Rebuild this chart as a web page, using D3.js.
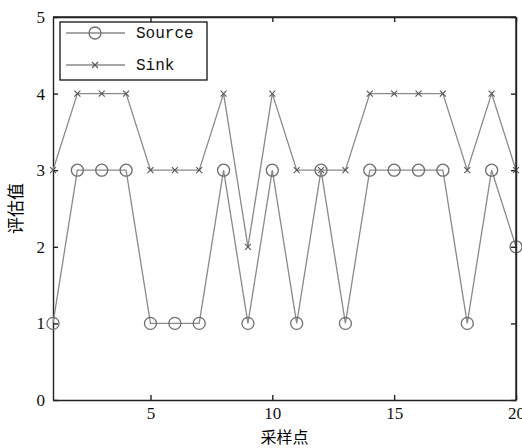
<!DOCTYPE html>
<head>
  <meta charset="utf-8">
  <style>
    body { margin: 0; background: #fff; }
    .line { fill: none; stroke: #8a8a8a; stroke-width: 1.3; }
    .dot { fill: none; stroke: #6e6e6e; stroke-width: 1.3; }
    .cross { stroke: #555; stroke-width: 1.1; }
    .axis path, .axis line { stroke: #222; stroke-width: 1.4; }
  </style>
  <script src="https://d3js.org/d3.v7.min.js"></script>
</head>
<body>
<script>
var samples = d3.range(1, 21);
var sourceValues = [1,3,3,3,1,1,1,3,1,3,1,3,1,3,3,3,3,1,3,2];
var sinkValues   = [3,4,4,4,3,3,3,4,2,4,3,3,3,4,4,4,4,3,4,3];
var xTicks = [5, 10, 15, 20];
var yTicks = [0, 1, 2, 3, 4, 5];

var margin = {top: 17, right: 6, bottom: 48, left: 53},
    width = 522 - margin.left - margin.right,
    height = 448 - margin.top - margin.bottom;

var svg = d3.select("body").append("svg")
    .attr("width", 522)
    .attr("height", 448);

var g = svg.append("g")
    .attr("transform", "translate(" + margin.left + "," + margin.top + ")");

var x = d3.scaleLinear().domain([1, 20]).range([0, width]);
var y = d3.scaleLinear().domain([0, 5]).range([height, 0]);
var fmt = d3.format("d");

function styleAxis(sel) {
  sel.attr("font-family", "Liberation Serif, serif").attr("font-size", 17);
  sel.selectAll("text").attr("fill", "#111");
}

// axes (ticks inward)
g.append("g").attr("class", "axis")
    .attr("transform", "translate(0," + height + ")")
    .call(d3.axisBottom(x).tickValues(xTicks).tickFormat(fmt).tickSize(-5).tickPadding(7).tickSizeOuter(0))
    .call(styleAxis);
g.append("g").attr("class", "axis")
    .call(d3.axisLeft(y).tickValues(yTicks).tickFormat(fmt).tickSize(-5).tickPadding(8).tickSizeOuter(0))
    .call(styleAxis);
g.append("g").attr("class", "axis")
    .attr("transform", "translate(" + width + ",0)")
    .call(d3.axisRight(y).tickValues(yTicks).tickSize(-5).tickFormat("").tickSizeOuter(0));
g.append("g").attr("class", "axis")
    .call(d3.axisTop(x).tickValues(xTicks).tickSize(-5).tickFormat("").tickSizeOuter(0));

// axis labels
svg.append("text")
    .attr("x", margin.left + width / 2).attr("y", 443)
    .attr("text-anchor", "middle")
    .attr("font-family", "Noto Sans CJK SC")
    .attr("font-size", "16px")
    .text("采样点");
svg.append("text")
    .attr("transform", "translate(22," + (margin.top + height / 2) + ") rotate(-90)")
    .attr("text-anchor", "middle")
    .attr("font-family", "Noto Sans CJK SC")
    .attr("font-size", "17px")
    .text("评估值");

var line = d3.line()
    .x(function(d, i) { return x(samples[i]); })
    .y(function(d) { return y(d); });

// Sink
g.append("path").attr("class", "line").attr("d", line(sinkValues));
function cross(sel, cx, cy, s) {
  sel.append("line").attr("class", "cross")
    .attr("x1", cx - s).attr("y1", cy - s).attr("x2", cx + s).attr("y2", cy + s);
  sel.append("line").attr("class", "cross")
    .attr("x1", cx - s).attr("y1", cy + s).attr("x2", cx + s).attr("y2", cy - s);
}
sinkValues.forEach(function(d, i) { cross(g, x(samples[i]), y(d), 3); });

// Source
g.append("path").attr("class", "line").attr("d", line(sourceValues));
g.selectAll(".dot").data(sourceValues).enter().append("circle")
    .attr("class", "dot")
    .attr("cx", function(d, i) { return x(samples[i]); })
    .attr("cy", function(d) { return y(d); })
    .attr("r", 6);

// frame top/right
g.append("line").attr("x1", 0).attr("x2", width).attr("y1", 0).attr("y2", 0)
    .attr("stroke", "#222").attr("stroke-width", 1.4);
g.append("line").attr("x1", width).attr("x2", width).attr("y1", 0).attr("y2", height)
    .attr("stroke", "#222").attr("stroke-width", 1.4);

// legend
var lg = svg.append("g");
lg.append("rect").attr("x", 60).attr("y", 22).attr("width", 147).attr("height", 58)
    .attr("fill", "#fff").attr("stroke", "#111").attr("stroke-width", 1.3);
var legendNames = ["Source", "Sink"];
legendNames.forEach(function(name, i) {
  var ly = 33 + i * 32;
  lg.append("line").attr("class", "line").attr("x1", 66).attr("x2", 125).attr("y1", ly).attr("y2", ly);
  if (i === 0) {
    lg.append("circle").attr("class", "dot").attr("cx", 95).attr("cy", ly).attr("r", 6);
  } else {
    cross(lg, 95, ly, 3);
  }
  lg.append("text").attr("x", 136).attr("y", ly + 5)
    .attr("font-family", "Liberation Mono, monospace")
    .attr("font-size", "16px").attr("fill", "#111")
    .text(name);
});
</script>
</body>
</html>
